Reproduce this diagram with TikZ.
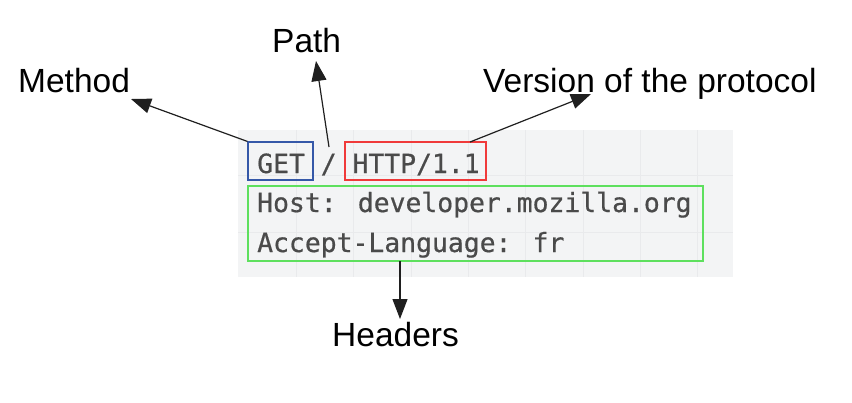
\documentclass[tikz,border=0pt]{standalone}
\usepackage{fontspec}
\setmainfont{Liberation Sans}
\newfontfamily\codefont[FakeBold=0.6]{DejaVu Sans Mono}
\usetikzlibrary{arrows.meta}
\definecolor{panel}{HTML}{F3F4F5}
\definecolor{gridc}{HTML}{E9EAEC}
\definecolor{codec}{HTML}{4A4A4A}
\definecolor{boxblue}{HTML}{3558A8}
\definecolor{boxred}{HTML}{F03A3A}
\definecolor{boxgreen}{HTML}{5EE05E}
\tikzset{
  lbl/.style={font=\fontsize{33.5}{38}\selectfont, text=black, inner sep=0pt, anchor=base west},
  code/.style={font=\codefont\fontsize{26.4}{30}\selectfont, text=codec, inner sep=0pt, anchor=base west},
  hbox/.style={draw=#1, line width=1.1pt, inner sep=0pt, fill=none},
  pointer/.style={draw=black!88, line width=1.2pt, -{Triangle[length=20pt,width=15pt]}}
}
\begin{document}
\begin{tikzpicture}[x=1pt,y=-1pt]
\useasboundingbox (0,0) rectangle (852,402);
% panel
\fill[panel] (238,130) rectangle (733,277);
\foreach \gx in {296.5,353.8,411.1,468.4,525.7,583,640.3,697.6}
  \draw[gridc, line width=0.7pt] (\gx,130) -- (\gx,277);
\foreach \gy in {175,232}
  \draw[gridc, line width=0.7pt] (238,\gy) -- (733,\gy);
% code text
\node[code] (l1) at (257,173) {GET / HTTP/1.1};
\node[code] (l2) at (257,212) {Host: developer.mozilla.org};
\node[code] (l3) at (257,252) {Accept-Language: fr};
% highlight boxes
\node[hbox=boxblue, minimum width=65pt, minimum height=38pt] (get) at (280.5,161) {};
\node[hbox=boxred, minimum width=141pt, minimum height=38pt] (ver) at (415.5,161) {};
\node[hbox=boxgreen, minimum width=455pt, minimum height=75pt] (hdr) at (475.5,223.5) {};
% labels
\node[lbl] (method) at (18,92) {Method};
\node[lbl] (path) at (272,52) {Path};
\node[lbl] (version) at (483,92) {Version of the protocol};
\node[lbl] (headers) at (332,346) {Headers};
% arrow ends
\coordinate (mtip) at (131,99);
\coordinate (ptip) at (316,61);
\coordinate (pstart) at (329,147);
\coordinate (vtip) at (591,94);
\coordinate (vstart) at (470,142);
\coordinate (hstart) at (400,261);
\coordinate (htip) at (400,319);
\draw[pointer] (get.north west) -- (mtip);
\draw[pointer] (pstart) -- (ptip);
\draw[pointer] (vstart) -- (vtip);
\draw[pointer] (hstart) -- (htip);
\end{tikzpicture}
\end{document}
